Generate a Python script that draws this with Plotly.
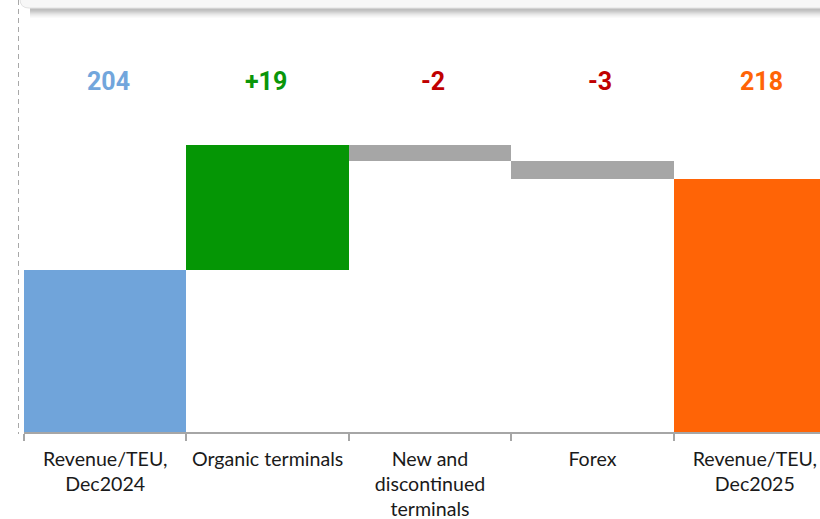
import plotly.graph_objects as go

# ---- data ----
categories = ["Revenue/TEU,<br>Dec2024", "Organic terminals",
              "New and<br>discontinued<br>terminals", "Forex",
              "Revenue/TEU,<br>Dec2025"]
start_value = 204
changes = [19.2, -2.4, -2.8]
value_labels = ["204", "+19", "-2", "-3", "218"]
bar_colors = ["#70a4da", "#059605", "#a6a6a6", "#a6a6a6", "#ff6406"]
label_colors = ["#72a6dc", "#0a960a", "#c00000", "#c00000", "#ff6406"]

# ---- waterfall geometry derived from data ----
end_value = start_value + sum(changes)
heights = [start_value] + changes + [end_value]
bases = [0]
run = start_value
for c in changes:
    bases.append(run)
    run += c
bases.append(0)

W, H = 820, 519
ML, MR, MT, MB = 24, 0, 20, 87
PW, PH = W - ML - MR, H - MT - MB
y_min = 179.1
px_per_unit = 6.5
y_max = y_min + PH / px_per_unit

def px(x):
    return (x - ML) / PW

def py(y):
    return (H - MB - y) / PH

fig = go.Figure()
fig.add_trace(go.Bar(
    x=categories, y=heights, base=bases,
    marker=dict(color=bar_colors, line=dict(width=0)),
    hoverinfo="skip",
))

label_xshift = [3, -2, 3, 8, 7]
for cat, txt, col, dx in zip(categories, value_labels, label_colors, label_xshift):
    fig.add_annotation(
        x=cat, y=py(81), xref="x", yref="paper",
        text=f"<b>{txt}</b>", showarrow=False, xshift=dx,
        font=dict(family="Roboto", size=25, color=col),
        xanchor="center", yanchor="middle",
    )

shapes = []
# dashed left line
shapes.append(dict(type="line", xref="paper", yref="paper",
                   x0=px(18.5), x1=px(18.5), y0=py(0), y1=py(434),
                   line=dict(color="#a8a8a8", width=1, dash="5px,4px")))
# top card shadow (gradient bands)
shadow = [(8, "#c2c2c2"), (9, "#bebebe"), (10, "#c3c3c3"), (11, "#cbcbcb"),
          (12, "#d5d5d5"), (13, "#dfdfdf"), (14, "#e8e8e8"), (15, "#efefef"),
          (16, "#f5f5f5"), (17, "#fafafa")]
for yy, col in shadow:
    shapes.append(dict(type="rect", xref="paper", yref="paper",
                       x0=px(30), x1=px(840), y0=py(yy + 1), y1=py(yy),
                       fillcolor=col, line=dict(width=0), layer="below"))
# top card body
x0, x1, yb, r = 20, 840, 8, 9
path = (f"M {px(x0)},{py(-10)} L {px(x0)},{py(yb - r)} "
        f"Q {px(x0)},{py(yb)} {px(x0 + r)},{py(yb)} "
        f"L {px(x1)},{py(yb)} L {px(x1)},{py(-10)} Z")
shapes.append(dict(type="path", xref="paper", yref="paper", path=path,
                   fillcolor="#f7f7f7", line=dict(color="#e2e2e2", width=1)))

fig.update_layout(
    width=W, height=H,
    margin=dict(l=ML, r=MR, t=MT, b=MB),
    paper_bgcolor="white", plot_bgcolor="white",
    bargap=0, showlegend=False,
    shapes=shapes,
    xaxis=dict(
        type="category", range=[-0.5, -0.5 + PW / 162.4],
        showgrid=False, zeroline=False,
        showline=True, linecolor="#a6a6a6", linewidth=2,
        ticks="outside", tickson="boundaries", ticklen=7,
        tickcolor="#a6a6a6", tickwidth=1.5,
        tickfont=dict(family="Lato", size=19.6, color="#1a1a1a"),
        ticklabelstandoff=8,
    ),
    yaxis=dict(range=[y_min, y_max], visible=False, showgrid=False,
               zeroline=False),
)

fig.write_html("out.html")
